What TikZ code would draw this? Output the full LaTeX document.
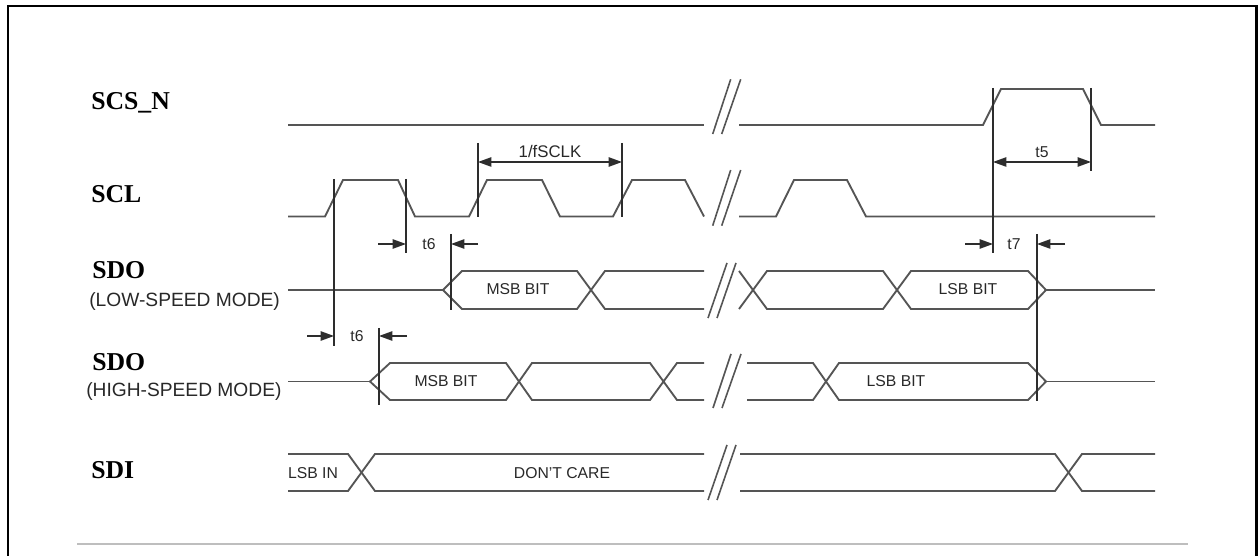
\documentclass[tikz,border=0pt]{standalone}
\usepackage{fontspec}
\setmainfont{Liberation Serif}
\setsansfont{Liberation Sans}
\usetikzlibrary{arrows.meta}
\definecolor{sig}{RGB}{85,85,85}
\definecolor{mk}{RGB}{45,45,45}
\definecolor{txt}{RGB}{40,40,40}
\definecolor{rule}{RGB}{190,190,190}
\begin{document}
\begin{tikzpicture}[x=0.75pt,y=-0.75pt,
  wave/.style={draw=sig,line width=1.4pt,line join=miter},
  markline/.style={draw=mk,line width=1.1pt},
  brk/.style={draw=sig,line width=1.2pt},
  dimone/.style={draw=mk,line width=1.1pt,-{Triangle[length=10pt,width=7pt]}},
  dimtwo/.style={draw=mk,line width=1.1pt,{Triangle[length=10pt,width=7pt]}-{Triangle[length=10pt,width=7pt]}},
  siglabel/.style={font=\fontsize{19.3}{22}\selectfont\bfseries,anchor=base west,inner sep=0pt},
  modelabel/.style={font=\sffamily\fontsize{14.4}{17}\selectfont,anchor=base west,inner sep=0pt,text=txt},
  small/.style={font=\sffamily\fontsize{11.8}{14}\selectfont,anchor=base,inner sep=0pt,text=txt}
]
\useasboundingbox (0,0) rectangle (1258,556);
% frame
\draw[black,line width=2pt] (8,560) -- (8,6) -- (1256.5,6) -- (1256.5,560);
\draw[rule,line width=1.1pt] (77,544) -- (1188,544);

% labels
\node[siglabel] (lscs) at (91,110) {SCS\_N};
\node[siglabel] (lscl) at (91,203) {SCL};
\node[siglabel] (lsdo1) at (92,279) {SDO};
\node[modelabel] (lmode1) at (89,306) {(LOW-SPEED MODE)};
\node[siglabel] (lsdo2) at (92,370) {SDO};
\node[modelabel] (lmode2) at (86,397) {(HIGH-SPEED MODE)};
\node[siglabel] (lsdi) at (91,478) {SDI};

% SCS_N
\draw[wave] (288,125) -- (704,125);
\draw[wave] (739,125) -- (983,125) -- (1001,89) -- (1083,89) -- (1101,125) -- (1155,125);
\draw[brk] (712.7,134) -- (730.7,79.3);
\draw[brk] (721.7,134) -- (740.7,79.3);

% SCL
\draw[wave] (288,216.5) -- (325,216.5) -- (343,180) -- (398,180) -- (415,216.5) -- (469,216.5) -- (487,180) -- (542,180) -- (560,216.5) -- (613,216.5) -- (632,180) -- (685,180) -- (704,216.5);
\draw[wave] (739,216.5) -- (776,216.5) -- (794,180) -- (847,180) -- (866,216.5) -- (1155,216.5);
\draw[brk] (712.7,225.7) -- (730.7,170);
\draw[brk] (721.7,225.7) -- (740.7,170);

% SDO low speed
\draw[wave] (288,290) -- (443,290);
\draw[wave] (704,271) -- (605,271) -- (577,309) -- (462,309) -- (443,290) -- (462,271) -- (577,271) -- (605,309) -- (704,309);
\draw[wave] (739,271) -- (767,309) -- (883,309) -- (911,271) -- (1028,271) -- (1046,290) -- (1028,309) -- (911,309) -- (883,271) -- (767,271) -- (739,309);
\draw[wave] (1046,290) -- (1155,290);
\draw[brk] (708,318) -- (727,263);
\draw[brk] (717,318) -- (736,263);

% SDO high speed
\draw[wave] (288,381.5) -- (370,381.5);
\draw[wave] (704,363) -- (677,363) -- (650,400) -- (532,400) -- (506,363) -- (390,363) -- (370,381.5) -- (390,400) -- (506,400) -- (532,363) -- (650,363) -- (677,400) -- (704,400);
\draw[wave] (747,363) -- (813,363) -- (839,400) -- (1028,400) -- (1046,381.5) -- (1028,363) -- (839,363) -- (813,400) -- (747,400);
\draw[wave] (1046,381.5) -- (1155,381.5);
\draw[brk] (713,408) -- (731,354);
\draw[brk] (722,408) -- (741,354);

% SDI
\draw[wave] (288,454) -- (348,454) -- (375,491) -- (704,491);
\draw[wave] (288,491) -- (348,491) -- (375,454) -- (704,454);
\draw[wave] (740,454) -- (1055,454) -- (1082,491) -- (1155,491);
\draw[wave] (740,491) -- (1055,491) -- (1082,454) -- (1155,454);
\draw[brk] (708,500) -- (727,445);
\draw[brk] (717,500) -- (736,445);

% bus texts
\node[small] (msb1) at (518,295) {MSB BIT};
\node[small] (lsb1) at (968,295) {LSB BIT};
\node[small] (msb2) at (446,387) {MSB BIT};
\node[small] (lsb2) at (896,387) {LSB BIT};
\node[small] (lsbin) at (313,478) {LSB IN};
\node[small] (dc) at (562,478) {DON'T CARE};

% marker lines
\coordinate (m1t) at (334,179); \coordinate (m1b) at (334,346);
\coordinate (m2t) at (406,179); \coordinate (m2b) at (406,253);
\coordinate (m3t) at (451,234); \coordinate (m3b) at (451,310);
\coordinate (m4t) at (379,328); \coordinate (m4b) at (379,405);
\coordinate (m5t) at (478,143); \coordinate (m5b) at (478,217);
\coordinate (m6t) at (622,143); \coordinate (m6b) at (622,217);
\coordinate (m7t) at (993,88);  \coordinate (m7b) at (993,253);
\coordinate (m8t) at (1091,88); \coordinate (m8b) at (1091,171);
\coordinate (m9t) at (1037,234); \coordinate (m9b) at (1037,401);
\foreach \n in {1,...,9} {\draw[markline] (m\n t) -- (m\n b);}

% dimension arrows
\coordinate (a1s) at (378,244); \coordinate (a1e) at (406,244);
\coordinate (a2s) at (478,244); \coordinate (a2e) at (451,244);
\coordinate (a3s) at (307,336); \coordinate (a3e) at (334,336);
\coordinate (a4s) at (407,336); \coordinate (a4e) at (379,336);
\coordinate (a5s) at (965,244); \coordinate (a5e) at (993,244);
\coordinate (a6s) at (1065,244); \coordinate (a6e) at (1037,244);
\draw[dimone] (a1s) -- (a1e);
\draw[dimone] (a2s) -- (a2e);
\draw[dimone] (a3s) -- (a3e);
\draw[dimone] (a4s) -- (a4e);
\draw[dimone] (a5s) -- (a5e);
\draw[dimone] (a6s) -- (a6e);
\coordinate (p1) at (478,162); \coordinate (p2) at (622,162);
\coordinate (q1) at (993,162); \coordinate (q2) at (1091,162);
\draw[dimtwo] (p1) -- (p2);
\draw[dimtwo] (q1) -- (q2);

\node[small,font=\sffamily\fontsize{12.6}{14}\selectfont] (fsclk) at (550,158) {1/fSCLK};
\node[small] (t5) at (1042,158) {t5};
\node[small] (t6a) at (429,250) {t6};
\node[small] (t6b) at (357,342) {t6};
\node[small] (t7) at (1014,250) {t7};
\end{tikzpicture}
\end{document}
